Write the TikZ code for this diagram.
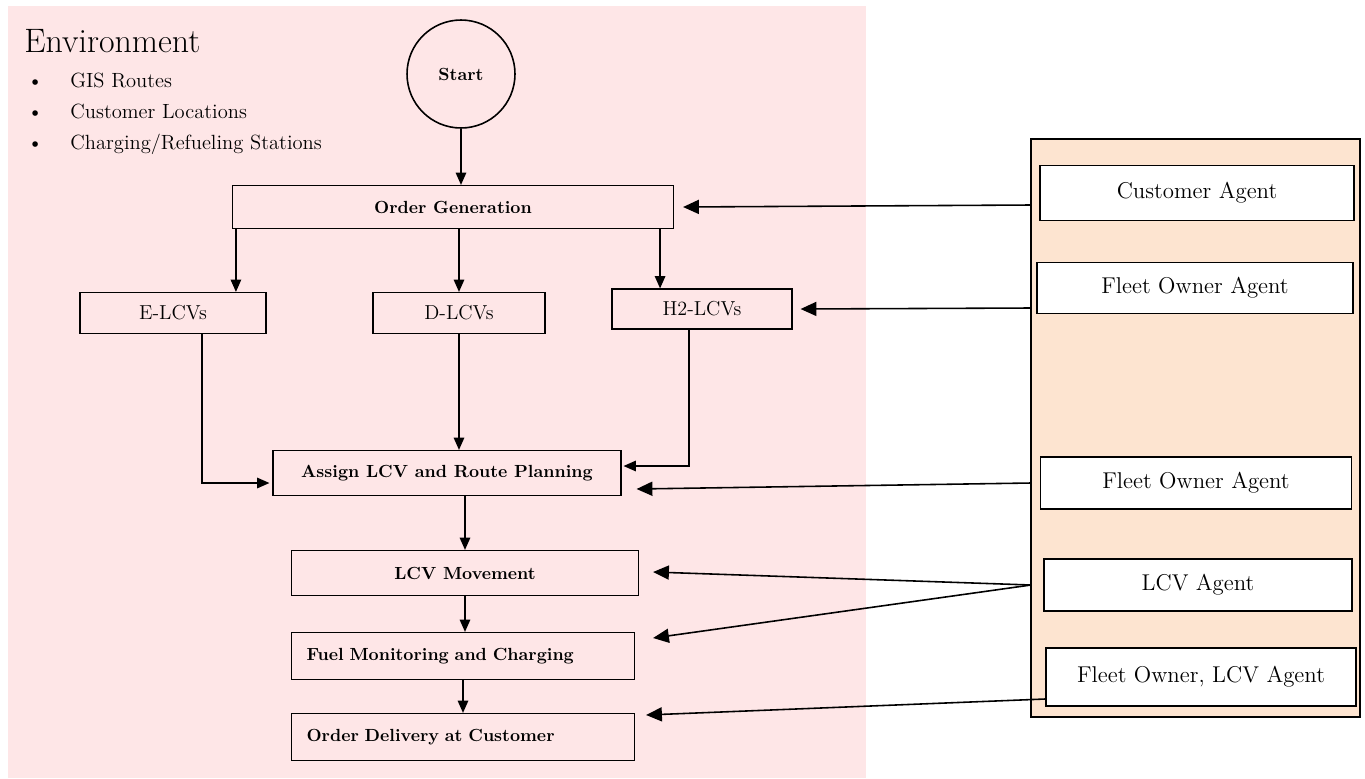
\documentclass[tikz,border=0pt]{standalone}
\usepackage{tikz}
\usetikzlibrary{arrows.meta}
\definecolor{envpink}{RGB}{254,230,231}
\definecolor{agentpeach}{RGB}{253,228,208}

\begin{document}
\begin{tikzpicture}[x=0.02cm, y=-0.02cm,
		flowbox/.style={draw, line width=0.7pt, inner sep=2pt, font=\bfseries},
		leftbox/.style={flowbox, text width=6.26cm, align=left, inner sep=0.3cm, minimum height=0.94cm},
		lcvbox/.style={draw, line width=0.7pt, minimum height=0.82cm, font=\fontsize{11.5}{14}\selectfont},
		agentbox/.style={draw, line width=1pt, fill=white, font=\fontsize{13}{15}\selectfont},
		flow/.style={-{Triangle[length=7pt, width=6pt]}, line width=0.7pt},
		feed/.style={-{Triangle[length=9pt, width=8pt]}, line width=0.9pt}]
			
			\useasboundingbox (0,0) rectangle (1365,778);
			\fill [envpink] (8,6) rectangle (866,778);
			\draw [fill = agentpeach, line width = 0.7pt] (1031,139) rectangle (1360,717);
			
			\node [anchor = base west, inner sep = 0pt, font = \fontsize{19.3}{22}\selectfont] (env) at (24,52) {Environment};
			\foreach \envtext/\yy [count = \i] in {{GIS Routes}/87, {Customer Locations}/118, {Charging/Refueling Stations}/149}{
				\node [anchor = base west, inner sep = 0pt, font = \fontsize{11.7}{13}\selectfont] (bul\i) at (27,\yy) {\textbullet};
				\node [anchor = base west, inner sep = 0pt, font = \fontsize{11.7}{13}\selectfont] (envitem\i) at (70,\yy) {\envtext};
			}
			
			\node [draw, circle, line width = 0.9pt, minimum size = 2.16cm, font = \bfseries] (start) at (461,74) {Start};
			
			\node [flowbox, minimum width = 8.82cm, minimum height = 0.86cm] (og) at (453,207) {Order Generation};
			
			\node [lcvbox, minimum width = 3.72cm] (elcv) at (173,313) {E-LCVs};
			\node [lcvbox, minimum width = 3.44cm] (dlcv) at (459,313) {D-LCVs};
			\node [lcvbox, minimum width = 3.6cm, minimum height = 0.8cm] (hlcv) at (702,309) {H2-LCVs};
			
			\node [flowbox, minimum width = 6.96cm, minimum height = 0.9cm] (assign) at (447,473) {Assign LCV and Route Planning};
			\node [flowbox, minimum width = 6.94cm, minimum height = 0.9cm] (move) at (465,573) {LCV Movement};
			\node [leftbox] (fuel) at (463,656) {Fuel Monitoring and Charging};
			\node [leftbox] (deliver) at (463,737) {Order Delivery at Customer};
			
			\node [agentbox, minimum width = 6.28cm, minimum height = 1.1cm] (custagent) at (1197,193) {Customer Agent};
			\node [agentbox, minimum width = 6.32cm, minimum height = 1.02cm] (fleetagent) at (1195,288) {Fleet Owner Agent};
			\node [agentbox, minimum width = 6.22cm, minimum height = 1.04cm] (fleetagentb) at (1196,483) {Fleet Owner Agent};
			\node [agentbox, minimum width = 6.16cm, minimum height = 1.04cm] (lcvagent) at (1198,585) {LCV Agent};
			\node [agentbox, minimum width = 6.2cm, minimum height = 1.16cm] (bothagent) at (1201,677) {Fleet Owner, LCV Agent};
			
			\coordinate (custout) at (1031,205);
			\coordinate (fleetout) at (1031,308);
			\coordinate (fleetoutb) at (1031,483);
			\coordinate (lcvout) at (1031,585);
			
			\draw [flow] (start.south) -- (start.south |- og.north);
			\draw [flow] ([shift = {(4,0)}]og.south west) -- ([shift = {(4,0)}]og.south west |- elcv.north);
			\draw [flow] (dlcv.north |- og.south) -- (dlcv.north);
			\draw [flow] ([shift = {(-14,0)}]og.south east) -- ([shift = {(-14,0)}]og.south east |- hlcv.north);
			
			\draw [flow] ([shift = {(29,0)}]elcv.south) |- ([shift = {(-3,10)}]assign.west);
			\draw [flow] (dlcv.south) -- (dlcv.south |- assign.north);
			\draw [flow] ([shift = {(-13,0)}]hlcv.south) |- ([shift = {(2,-7)}]assign.east);
			
			\draw [flow] (move.north |- assign.south) -- (move.north);
			\draw [flow] (move.south) -- (move.south |- fuel.north);
			\draw [flow] (fuel.south) -- (deliver.north);
			
			\draw [feed] (custout) -- ([shift = {(9,0)}]og.east);
			\draw [feed] (fleetout) -- ([shift = {(8,0)}]hlcv.east);
			\draw [feed] (fleetoutb) -- ([shift = {(15,16)}]assign.east);
			\draw [feed] (lcvout) -- ([shift = {(14,-1)}]move.east);
			\draw [feed] (lcvout) -- ([shift = {(18,-18)}]fuel.east);
			\draw [feed] ([shift = {(0,22)}]bothagent.west) -- ([shift = {(11,-22)}]deliver.east);
			
		\end{tikzpicture}
\end{document}
